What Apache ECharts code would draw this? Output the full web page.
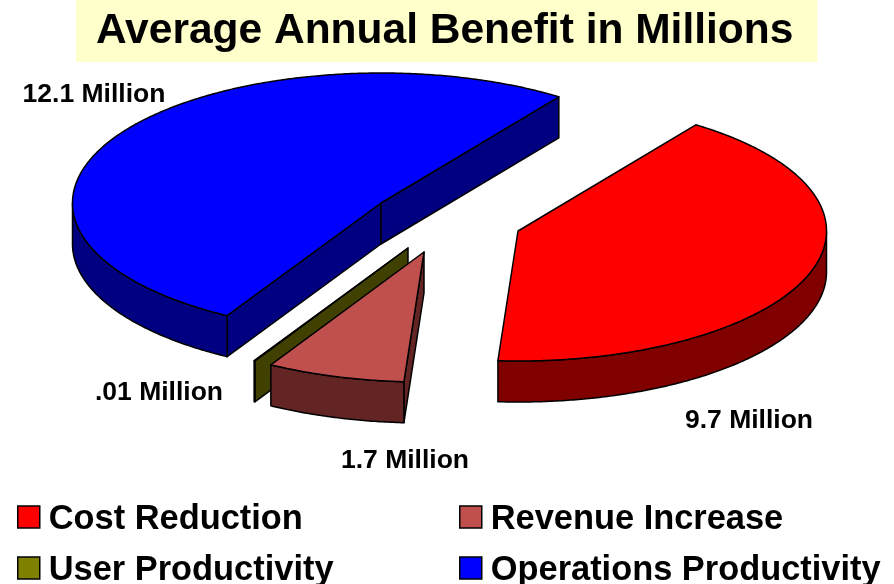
<!DOCTYPE html>
<html>
<head>
<meta charset="utf-8">
<style>html,body{margin:0;padding:0;background:#fff}#chart{width:894px;height:584px}</style>
<script src="https://cdn.jsdelivr.net/npm/echarts@6/dist/echarts.min.js"></script>
</head>
<body>
<div id="chart"></div>
<script>
// Average annual benefit, in millions, for each benefit category
const categories = ['Cost Reduction', 'Revenue Increase', 'User Productivity', 'Operations Productivity'];
const benefits = [9.7, 1.7, 0.01, 12.1];
const valueLabels = ['9.7 Million', '1.7 Million', '.01 Million', '12.1 Million'];

// Slice colours: top face and side wall
const topColors = ['#ff0000', '#c0504d', '#808000', '#0000ff'];
const wallColors = ['#800000', '#632523', '#404000', '#000080'];

// Tilted pie layout: ellipse radii, extrusion depth, first slice angle (degrees, clockwise sweep)
const pie = { cx: 450, cy: 225, rx: 308.5, ry: 130, depth: 41, startAngle: 54.8 };
// How far each slice is pulled away from the shared centre
const explode = [[68, 6], [-26, 27], [-42, 23], [-69, -22]];
// Anchor of each value label
const labelAnchors = [[749, 421], [405, 461], [159, 393], [94, 95]];

const FONT = '"Liberation Sans", Arial, sans-serif';
const total = benefits.reduce((a, b) => a + b, 0);

function sliceAngles(index) {
  let start = pie.startAngle;
  for (let i = 0; i < index; i++) start -= benefits[i] / total * 360;
  return [start, start - benefits[index] / total * 360];
}

function renderSlice(index) {
  return function (params, api) {
    const [a0, a1] = sliceAngles(index);
    const ox = pie.cx + explode[index][0];
    const oy = pie.cy + explode[index][1];
    const rim = (deg, dy) => {
      const t = deg * Math.PI / 180;
      return [ox + pie.rx * Math.cos(t), oy - pie.ry * Math.sin(t) + (dy || 0)];
    };
    const apex = [ox, oy];
    const apexLow = [ox, oy + pie.depth];
    const stroke = { stroke: '#000', lineWidth: 1.5, lineJoin: 'round' };
    const poly = (points, fill) => ({
      type: 'polygon',
      shape: { points },
      style: Object.assign({ fill }, stroke)
    });
    const children = [];
    const wall = wallColors[index];

    // Cut faces that turn toward the viewer
    const radial = deg => poly([apex, rim(deg), rim(deg, pie.depth), apexLow], wall);
    if (Math.cos(a0 * Math.PI / 180) < 0) children.push(radial(a0));
    if (Math.cos(a1 * Math.PI / 180) > 0) children.push(radial(a1));

    // Curved outer wall: only the stretch on the lower half of the ellipse shows
    const upper = [];
    const lower = [];
    for (let d = a0; d > a1; d -= 0.5) {
      const norm = ((d % 360) + 360) % 360;
      if (norm >= 180) {
        upper.push(rim(d));
        lower.unshift(rim(d, pie.depth));
      }
    }
    const endNorm = ((a1 % 360) + 360) % 360;
    if (endNorm >= 180) {
      upper.push(rim(a1));
      lower.unshift(rim(a1, pie.depth));
    }
    if (upper.length > 1) children.push(poly(upper.concat(lower), wall));

    // Top face
    const face = [apex];
    for (let d = a0; d > a1; d -= 0.5) face.push(rim(d));
    face.push(rim(a1));
    children.push(poly(face, topColors[index]));

    // Value label
    children.push({
      type: 'text',
      x: labelAnchors[index][0],
      y: labelAnchors[index][1],
      style: {
        text: valueLabels[index],
        fill: '#000',
        font: 'bold 26.5px ' + FONT,
        align: 'center',
        verticalAlign: 'middle'
      }
    });

    return { type: 'group', children };
  };
}

// Back-to-front paint order so nearer slices cover the farther ones
const paintOrder = { 3: 1, 2: 2, 1: 3, 0: 4 };

const chart = echarts.init(document.getElementById('chart'), null, { renderer: 'canvas' });

const legendBase = {
  orient: 'vertical',
  selectedMode: false,
  itemWidth: 22,
  itemHeight: 22,
  itemGap: 17,
  height: 200,
  icon: 'rect',
  padding: 0,
  itemStyle: { borderColor: '#000', borderWidth: 1.5 },
  formatter: '{t|{name}}',
  textStyle: {
    rich: {
      t: {
        fontFamily: FONT,
        fontWeight: 'bold',
        fontSize: 34.4,
        color: '#000',
        padding: [6, 0, 0, 4]
      }
    }
  }
};

chart.setOption({
  animation: false,
  backgroundColor: '#fff',
  title: {
    text: 'Average Annual Benefit in Millions',
    left: 76,
    top: 0,
    padding: [9, 24, 9, 20],
    backgroundColor: '#ffffcc',
    textStyle: { fontFamily: FONT, fontWeight: 'bold', fontSize: 42.5, color: '#000', lineHeight: 44 }
  },
  legend: [
    Object.assign({}, legendBase, { left: 17, top: 503, data: [categories[0], categories[2]] }),
    Object.assign({}, legendBase, { left: 459, top: 503, data: [categories[1], categories[3]] })
  ],
  series: categories.map((name, i) => ({
    type: 'custom',
    name,
    coordinateSystem: 'none',
    z: paintOrder[i],
    silent: true,
    itemStyle: { color: topColors[i] },
    renderItem: renderSlice(i),
    data: [benefits[i]]
  }))
});
</script>
</body>
</html>
